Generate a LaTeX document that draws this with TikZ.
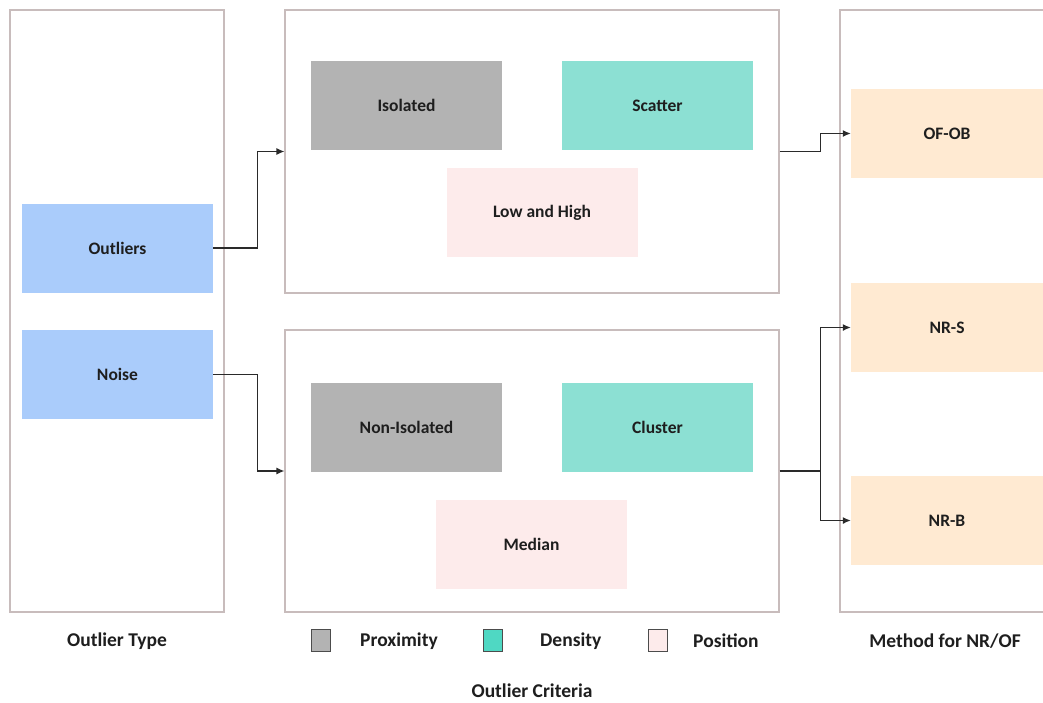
\documentclass[tikz,border=0pt]{standalone}
\usepackage{fontspec}
\setmainfont{Carlito}
\usetikzlibrary{arrows.meta}

\definecolor{panelline}{HTML}{C8BCBC}
\definecolor{proxfill}{HTML}{B3B3B3}
\definecolor{densfill}{HTML}{8CE0D3}
\definecolor{densleg}{HTML}{4FD8C3}
\definecolor{posfill}{HTML}{FDEBEB}
\definecolor{typefill}{HTML}{AACCFB}
\definecolor{methfill}{HTML}{FFEAD2}
\definecolor{txt}{HTML}{1E1E1E}
\definecolor{wire}{HTML}{2A2A2A}

\tikzset{
  panel/.style={draw=panelline, line width=1.2pt, fill=white, inner sep=0pt},
  cbox/.style={inner sep=0pt, minimum width=191pt, minimum height=89pt,
               font=\fontsize{17.5}{20}\selectfont\bfseries, text=txt},
  prox/.style={cbox, fill=proxfill},
  dens/.style={cbox, fill=densfill},
  posi/.style={cbox, fill=posfill},
  otype/.style={cbox, fill=typefill},
  meth/.style={cbox, fill=methfill, minimum width=192pt},
  legsq/.style={draw=black!70, line width=0.9pt, minimum width=19pt, minimum height=22pt, inner sep=0pt},
  caption/.style={font=\fontsize{19.5}{22}\selectfont\bfseries, text=txt, inner sep=0pt},
  arr/.style={draw=wire, line width=1.2pt, -{Latex[length=8pt,width=7pt]}},
  wireline/.style={draw=wire, line width=1.2pt},
}

\begin{document}
\begin{tikzpicture}[x=1pt,y=-1pt]
\clip (0,0) rectangle (1043,702);
\fill[white] (0,0) rectangle (1043,702);

% column frames
\node[panel, minimum width=214pt, minimum height=602pt] (typepanel) at (117,311) {};
\node[panel, minimum width=494pt, minimum height=283pt] (critA) at (532,151.5) {};
\node[panel, minimum width=494pt, minimum height=282pt] (critB) at (532,471) {};
\node[panel, minimum width=240pt, minimum height=602pt] (methpanel) at (960,311) {};

% outlier types
\node[otype] (outliers) at (117.5,248) {Outliers};
\node[otype] (noise) at (117.5,374.5) {Noise};

% criteria for outliers
\node[prox] (isolated) at (406.5,105.5) {Isolated};
\node[dens] (scatter) at (657.5,105.5) {Scatter};
\node[posi] (lowhigh) at (542,212.5) {Low and High};

% criteria for noise
\node[prox] (nonisolated) at (406.5,427) {Non-Isolated};
\node[dens] (cluster) at (657.5,427) {Cluster};
\node[posi] (median) at (531.5,544.5) {Median};

% methods
\node[meth] (ofob) at (947,133.5) {OF-OB};
\node[meth] (nrs) at (947,327.5) {NR-S};
\node[meth] (nrb) at (947,520.5) {NR-B};

% connectors
\draw[arr] (outliers.east) -- ++(44,0) |- (critA.west);
\draw[arr] (noise.east) -- ++(44,0) |- (critB.west);
\draw[arr] (critA.east) -- ++(41,0) |- (ofob.west);
\draw[wireline] (critB.east) -- ++(41,0) coordinate (split);
\draw[arr] (split) |- (nrs.west);
\draw[arr] (split) |- (nrb.west);

% legend
\node[legsq, fill=proxfill] (legprox) at (321,640) {};
\node[caption, anchor=west] (legproxtxt) at (360,641) {Proximity};
\node[legsq, fill=densleg] (legdens) at (493,640) {};
\node[caption, anchor=west] (legdenstxt) at (540,641) {Density};
\node[legsq, fill=posfill] (legpos) at (658,640) {};
\node[caption, anchor=west] (legpostxt) at (693,641) {Position};

% column captions
\node[caption] (captype) at (117,641) {Outlier Type};
\node[caption] (capmeth) at (945,641) {Method for NR/OF};
\node[caption] (capcrit) at (532,691) {Outlier Criteria};
\end{tikzpicture}
\end{document}
